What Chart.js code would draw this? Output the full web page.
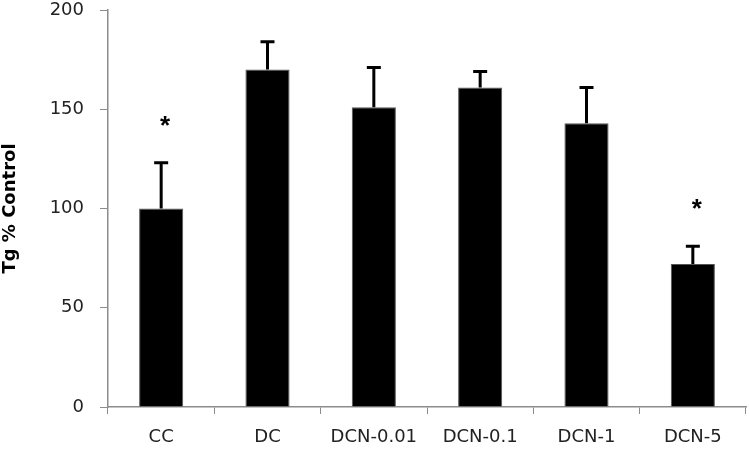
<!DOCTYPE html>
<html lang="en">
<head>
  <meta charset="UTF-8">
  <title>Tg % Control</title>
  <script src="https://cdn.jsdelivr.net/npm/chart.js"></script>
  <style>
    html, body {
      margin: 0;
      padding: 0;
      background: #fff;
    }
    .chart-container {
      width: 750px;
      height: 452px;
    }
  </style>
</head>
<body>

  <div class="chart-container">
    <canvas id="tgChart"></canvas>
  </div>

  <script>
    const groups = ['CC', 'DC', 'DCN-0.01', 'DCN-0.1', 'DCN-1', 'DCN-5'];
    const tgValues = [100, 170, 151, 161, 143, 72];
    const tgErrors = [23, 14, 20, 8, 18, 9];
    const significant = ['*', '', '', '', '', '*'];
    const yTicks = [0, 50, 100, 150, 200];

    const axisGrey = '#8c8c8c';
    const labelFont = { family: 'DejaVu Sans', size: 18 };

    // upward-only error bars plus significance stars
    const errorBars = {
      id: 'errorBars',
      afterDatasetsDraw(chart) {
        const { ctx, scales: { x, y } } = chart;
        ctx.save();
        ctx.strokeStyle = '#000';
        ctx.lineWidth = 3;
        tgValues.forEach((v, i) => {
          const cx = x.getPixelForValue(i);
          const top = y.getPixelForValue(v + tgErrors[i]);
          ctx.beginPath();
          ctx.moveTo(cx, y.getPixelForValue(v));
          ctx.lineTo(cx, top);
          ctx.moveTo(cx - 7, top);
          ctx.lineTo(cx + 7, top);
          ctx.stroke();
          if (significant[i]) {
            ctx.fillStyle = '#000';
            ctx.font = 'bold 26px "Liberation Sans"';
            ctx.textAlign = 'center';
            ctx.textBaseline = 'middle';
            ctx.fillText(significant[i], cx + 4, top - 36);
          }
        });
        ctx.restore();
      }
    };

    const ctx = document.getElementById('tgChart').getContext('2d');

    new Chart(ctx, {
      type: 'bar',
      data: {
        labels: groups,
        datasets: [{
          label: 'Tg % Control',
          data: tgValues,
          backgroundColor: '#000',
          borderColor: '#555',
          borderWidth: 1,
          barPercentage: 0.83,
          categoryPercentage: 0.5
        }]
      },
      options: {
        responsive: true,
        maintainAspectRatio: false,
        animation: false,
        layout: { padding: { top: 10, right: 4, left: 0, bottom: 0 } },
        plugins: {
          legend: { display: false },
          tooltip: { enabled: false }
        },
        scales: {
          x: {
            grid: {
              offset: true,
              drawOnChartArea: false,
              color: axisGrey,
              tickLength: 7
            },
            border: { color: axisGrey, width: 1.5 },
            ticks: {
              color: '#222',
              font: labelFont,
              padding: 13,
              maxRotation: 0
            },
            afterFit(scale) { scale.height = 45; }
          },
          y: {
            min: 0,
            max: 200,
            afterBuildTicks(scale) {
              scale.ticks = yTicks.map(v => ({ value: v }));
            },
            grid: {
              drawOnChartArea: false,
              color: axisGrey,
              tickLength: 8
            },
            border: { color: axisGrey, width: 1.5 },
            ticks: {
              color: '#222',
              font: labelFont,
              padding: 16
            },
            title: {
              display: true,
              text: 'Tg % Control',
              color: '#000',
              font: { family: 'DejaVu Sans', size: 18, weight: 'bold' },
              padding: { top: 0, bottom: 0 }
            },
            afterFit(scale) {
              scale.width = 108;
              scale.paddingTop = 0;
              scale.paddingBottom = 0;
            }
          }
        }
      },
      plugins: [errorBars]
    });
  </script>

</body>
</html>
